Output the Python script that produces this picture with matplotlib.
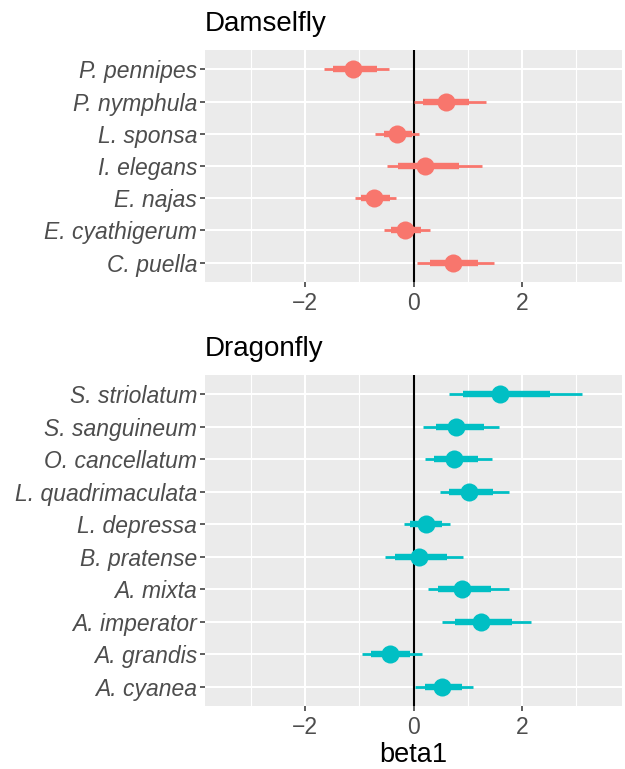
import numpy as np
import matplotlib.pyplot as plt
from matplotlib.ticker import FixedLocator

plt.rcParams['font.family'] = ['Liberation Sans', 'DejaVu Sans']

# Damselfly (top to bottom)
damsel_species = ["P. pennipes", "P. nymphula", "L. sponsa", "I. elegans",
                  "E. najas", "E. cyathigerum", "C. puella"]
damsel_mid = [-1.11, 0.59, -0.30, 0.22, -0.73, -0.16, 0.73]
damsel_lo66 = [-1.49, 0.17, -0.55, -0.28, -0.96, -0.42, 0.31]
damsel_hi66 = [-0.68, 1.03, -0.03, 0.84, -0.44, 0.14, 1.19]
damsel_lo95 = [-1.64, 0.00, -0.71, -0.48, -1.07, -0.55, 0.07]
damsel_hi95 = [-0.46, 1.34, 0.11, 1.27, -0.33, 0.31, 1.48]

# Dragonfly (top to bottom)
dragon_species = ["S. striolatum", "S. sanguineum", "O. cancellatum",
                  "L. quadrimaculata", "L. depressa", "B. pratense", "A. mixta",
                  "A. imperator", "A. grandis", "A. cyanea"]
dragon_mid = [1.60, 0.79, 0.75, 1.03, 0.23, 0.10, 0.90, 1.24, -0.43, 0.52]
dragon_lo66 = [0.92, 0.41, 0.37, 0.66, -0.07, -0.34, 0.46, 0.77, -0.78, 0.22]
dragon_hi66 = [2.52, 1.29, 1.19, 1.47, 0.52, 0.62, 1.43, 1.82, -0.06, 0.89]
dragon_lo95 = [0.65, 0.18, 0.22, 0.48, -0.18, -0.53, 0.26, 0.52, -0.95, 0.02]
dragon_hi95 = [3.11, 1.58, 1.45, 1.76, 0.68, 0.92, 1.76, 2.17, 0.15, 1.09]

W, H = 625, 769
fig = plt.figure(figsize=(W / 100, H / 100), dpi=100)


def px_axes(left, top, right, bottom):
    return fig.add_axes([left / W, 1 - bottom / H, (right - left) / W, (bottom - top) / H])


def panel(ax, species, mid, lo66, hi66, lo95, hi95, color, title, xlabel=None):
    n = len(species)
    y = np.arange(n)[::-1]
    ax.set_facecolor('#EBEBEB')
    for s in ax.spines.values():
        s.set_visible(False)
    ax.set_xlim(-3.84, 3.84)
    ax.set_ylim(-0.6, n - 0.4)
    ax.xaxis.set_major_locator(FixedLocator([-2, 0, 2]))
    ax.xaxis.set_minor_locator(FixedLocator([-3, -1, 1, 3]))
    ax.set_xticklabels(['\u22122', '0', '2'])
    ax.set_yticks(y)
    ax.set_yticklabels(species, style='italic')
    ax.grid(which='major', color='white', linewidth=1.5)
    ax.grid(which='minor', axis='x', color='white', linewidth=0.8)
    ax.set_axisbelow(True)
    ax.tick_params(axis='both', which='major', length=3.5, width=1.1, color='#333333',
                   labelcolor='#4D4D4D', labelsize=16.5, pad=2)
    ax.tick_params(axis='x', which='major', pad=3.5)
    ax.tick_params(axis='x', which='minor', length=0)
    ax.axvline(0, color='black', linewidth=1.5, zorder=2)
    ax.hlines(y, lo95, hi95, color=color, linewidth=2.0, zorder=3)
    ax.hlines(y, lo66, hi66, color=color, linewidth=4.6, zorder=3)
    ax.plot(mid, y, 'o', color=color, markersize=13, markeredgewidth=0, zorder=4)
    ax.set_title(title, loc='left', fontsize=20, pad=13.5, x=0.0)
    if xlabel:
        ax.set_xlabel(xlabel, fontsize=19.5, labelpad=2.5)


ax1 = px_axes(205, 50, 622, 282)
panel(ax1, damsel_species, damsel_mid, damsel_lo66, damsel_hi66,
      damsel_lo95, damsel_hi95, '#F8766D', 'Damselfly')
ax2 = px_axes(205, 375, 622, 706)
panel(ax2, dragon_species, dragon_mid, dragon_lo66, dragon_hi66,
      dragon_lo95, dragon_hi95, '#00BFC4', 'Dragonfly', xlabel='beta1')

fig.savefig('out.png', dpi=100)
